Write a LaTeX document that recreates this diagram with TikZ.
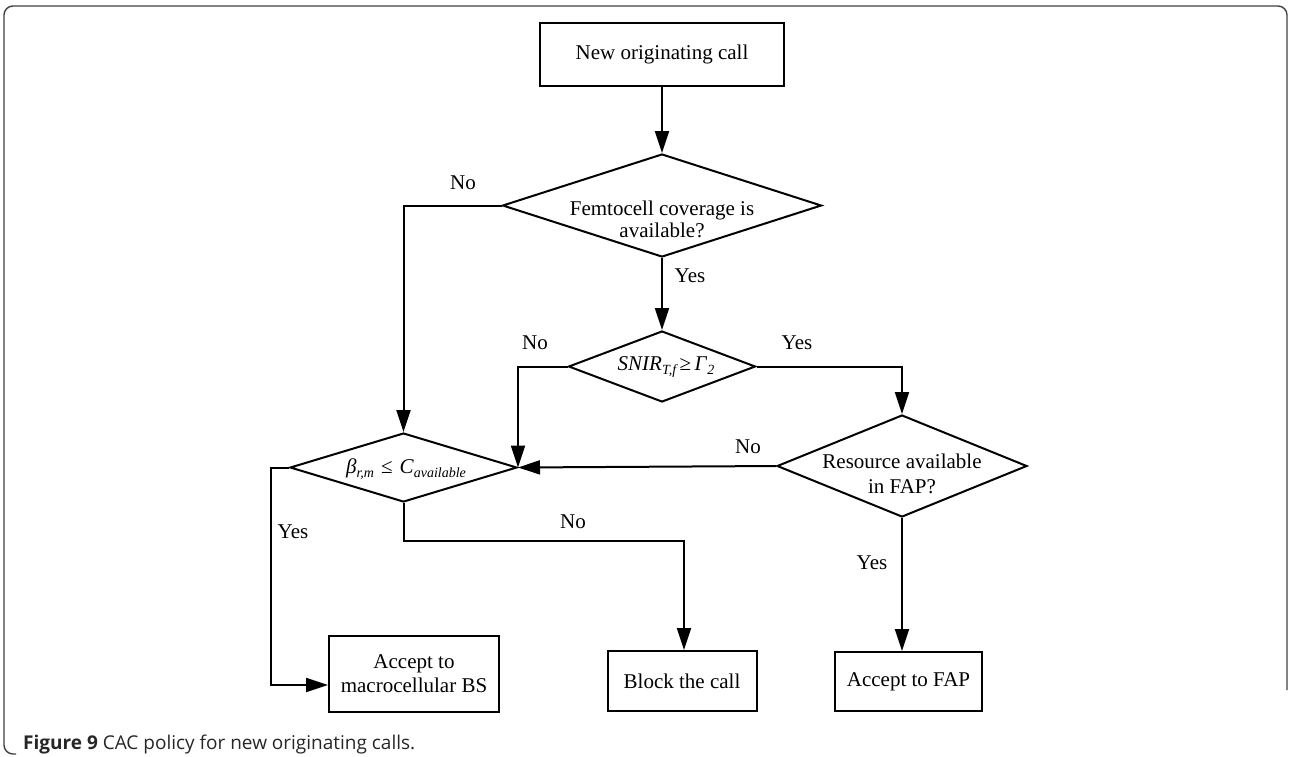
\documentclass[tikz,border=0pt]{standalone}
\usepackage{fontspec}
\setmainfont{Liberation Serif}
\newfontfamily\capfont{Open Sans}
\usetikzlibrary{shapes.geometric,arrows.meta}
\newcommand\mysub[1]{\raisebox{-0.35ex}{\fontsize{14}{14}\selectfont\itshape #1}}
\newcommand\fs{\fontsize{21}{24}\selectfont}
\tikzset{
  proc/.style={draw, line width=2pt, inner sep=0pt, font=\fs},
  dia/.style={draw, diamond, line width=2pt, inner sep=0pt},
  lab/.style={font=\fs, inner sep=0pt},
  arr/.style={line width=2pt, -{Triangle[length=22pt,width=14pt]}},
}
\begin{document}
\begin{tikzpicture}[x=1pt,y=-1pt]
\useasboundingbox (0,0) rectangle (1289,756);
% frame
\draw[line width=1.4pt, black!75, rounded corners=9pt] (1287,690) -- (1287,6) -- (4,6) -- (4,754) -- (16,754);
% nodes
\node[proc, minimum width=244pt, minimum height=63pt] (start) at (662,54.5) {New originating call};
\node[dia, minimum width=319pt, minimum height=103pt] (d1) at (662,205.5) {};
\node[lab, align=center, font=\fontsize{21}{22}\selectfont] (d1t) at (662,219) {Femtocell coverage is\\available?};
\node[dia, minimum width=187pt, minimum height=71pt] (d2) at (662,366.5) {};
\node[lab] (d2t) at (666,367) {\textit{SNIR}\mysub{T,f}\,≥\,\textit{Γ}\mysub{2}};
\node[dia, minimum width=227pt, minimum height=69pt] (d3) at (403.5,467.5) {};
\node[lab] (d3t) at (406,469) {\textit{β}\mysub{r,m}\,\,≤\,\,\textit{C}\mysub{available}};
\node[dia, minimum width=250pt, minimum height=102pt] (d4) at (902,466) {};
\node[lab, align=center, font=\fontsize{21}{25}\selectfont] (d4t) at (902,474) {Resource available\\in FAP?};
\node[proc, minimum width=170pt, minimum height=76pt, align=center] (acm) at (414,674) {Accept to\\macrocellular BS};
\node[proc, minimum width=149pt, minimum height=60pt] (blk) at (682,681) {Block the call};
\node[proc, minimum width=147pt, minimum height=59pt] (fap) at (908.5,681.5) {Accept to FAP};
% connectors
\coordinate (bk) at (684,541);
\coordinate (yk) at (271,685);
\draw[arr] (start.south) -- (d1.north);
\draw[arr] (d1.south) -- (d2.north);
\draw[arr] (d1.west) -| (d3.north);
\draw[arr] (d2.west) -| (d3.east);
\draw[arr] (d2.east) -| (d4.north);
\draw[arr] (d4.west) -- (d3.east);
\draw[arr] (d4.south) -- (d4.south |- fap.north);
\draw[arr] (d3.south) |- (bk) -- (bk |- blk.north);
\draw[arr] (d3.west) -- (d3.west -| yk) -- (yk) -- (yk -| acm.west);
% labels
\node[lab] (l1) at (690,276) {Yes};
\node[lab] (l2) at (463,183) {No};
\node[lab] (l3) at (535,343) {No};
\node[lab] (l4) at (797,343) {Yes};
\node[lab] (l5) at (748,447) {No};
\node[lab] (l6) at (872,563) {Yes};
\node[lab] (l7) at (573,522) {No};
\node[lab] (l8) at (293,532) {Yes};
% caption
\node[anchor=base west, inner sep=0pt, font=\capfont\fontsize{19}{21}\selectfont, text=black!85] (cap) at (23,749) {\textbf{Figure 9} CAC policy for new originating calls.};
\end{tikzpicture}
\end{document}
